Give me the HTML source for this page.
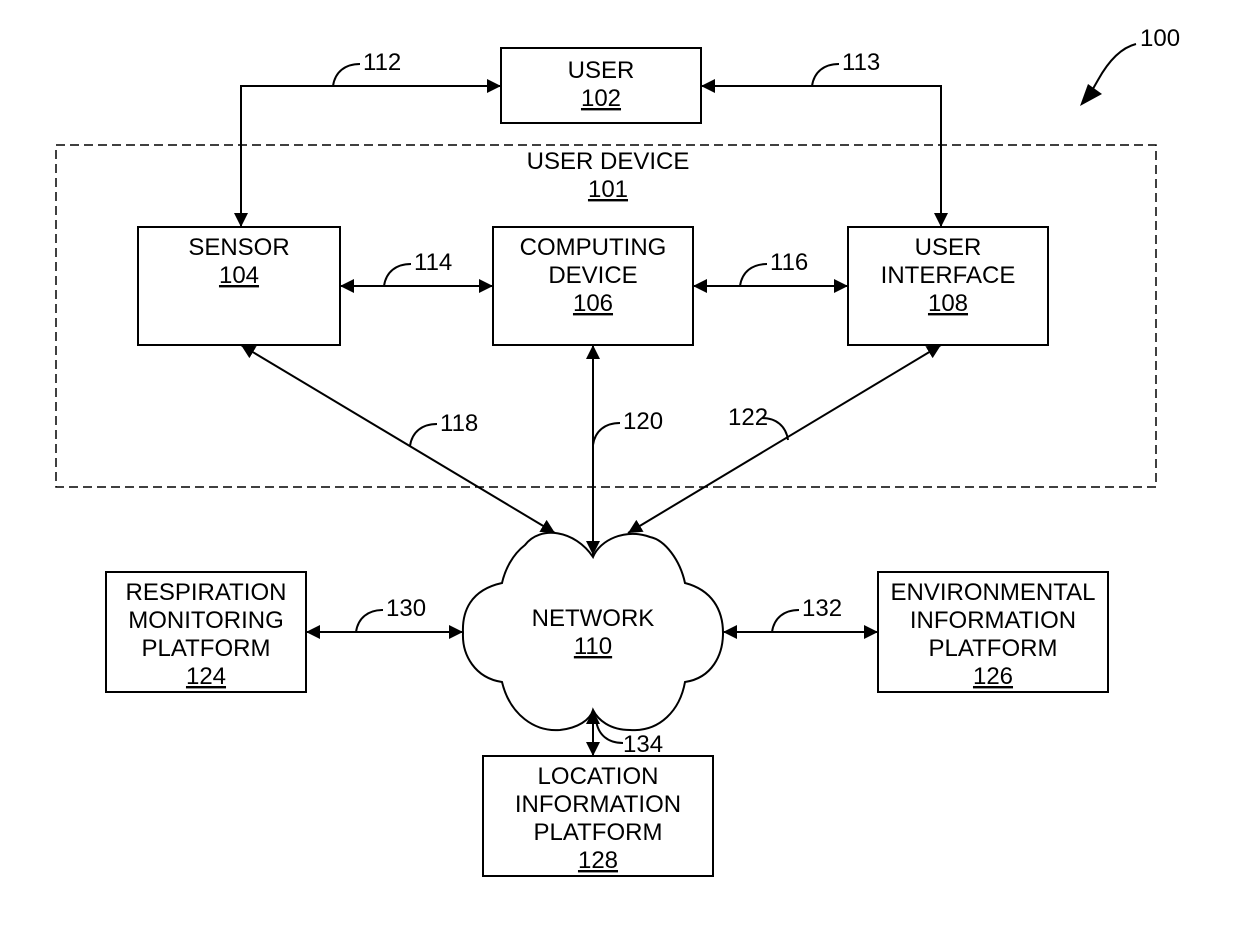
<!DOCTYPE html>
<html><head><style>
body{margin:0;background:#fff}
svg text{font-family:"Liberation Sans",Arial,sans-serif;font-size:24px;fill:#000}
.u{text-decoration:underline}
</style></head><body>
<svg width="1240" height="944" viewBox="0 0 1240 944" xmlns="http://www.w3.org/2000/svg">
<defs>
<marker id="a" viewBox="0 0 10 10" refX="10" refY="5" markerWidth="14" markerHeight="14" markerUnits="userSpaceOnUse" orient="auto-start-reverse"><path d="M0,0L10,5L0,10z" fill="#000"/></marker>
</defs>
<g fill="none" stroke="#000" stroke-width="2">
<rect x="56" y="145" width="1100" height="342" stroke-dasharray="9,5" stroke-width="1.5"/>
<rect x="501" y="48" width="200" height="75"/>
<rect x="138" y="227" width="202" height="118"/>
<rect x="493" y="227" width="200" height="118"/>
<rect x="848" y="227" width="200" height="118"/>
<rect x="106" y="572" width="200" height="120"/>
<rect x="878" y="572" width="230" height="120"/>
<rect x="483" y="756" width="230" height="120"/>
<path d="M593,557 C575,530 540,525 525,545 C512,555 505,570 502,583 C470,590 462,612 463,633 C462,655 475,678 502,682 C510,715 535,732 560,730 C578,728 590,720 593,710 C598,720 610,730 630,730 C660,732 680,710 685,682 C712,678 723,655 723,633 C723,610 712,590 685,583 C680,560 665,540 650,537 C625,528 600,540 593,557 Z"/>
<polyline points="241,227 241,86 501,86" marker-start="url(#a)" marker-end="url(#a)"/>
<polyline points="941,227 941,86 701,86" marker-start="url(#a)" marker-end="url(#a)"/>
<line x1="340" y1="286" x2="493" y2="286" marker-start="url(#a)" marker-end="url(#a)"/>
<line x1="693" y1="286" x2="848" y2="286" marker-start="url(#a)" marker-end="url(#a)"/>
<line x1="241" y1="345" x2="555" y2="533" marker-start="url(#a)" marker-end="url(#a)"/>
<line x1="593" y1="345" x2="593" y2="555" marker-start="url(#a)" marker-end="url(#a)"/>
<line x1="941" y1="345" x2="628" y2="533" marker-start="url(#a)" marker-end="url(#a)"/>
<line x1="306" y1="632" x2="463" y2="632" marker-start="url(#a)" marker-end="url(#a)"/>
<line x1="723" y1="632" x2="878" y2="632" marker-start="url(#a)" marker-end="url(#a)"/>
<line x1="593" y1="710" x2="593" y2="756" marker-start="url(#a)" marker-end="url(#a)"/>
<path d="M333,86 C335,72 345,64 360,64"/>
<path d="M812,86 C814,72 824,64 839,64"/>
<path d="M384,286 C386,272 396,264 411,264"/>
<path d="M740,286 C742,272 752,264 767,264"/>
<path d="M410,446 C412,432 422,424 437,424"/>
<path d="M593,445 C595,431 605,423 620,423"/>
<path d="M788,440 C786,426 776,418 762,418"/>
<path d="M356,632 C358,618 368,610 383,610"/>
<path d="M772,632 C774,618 784,610 799,610"/>
<path d="M596,720 C598,735 608,743 623,743"/>
<path d="M1136,44 C1120,48 1108,62 1098,80 L1090,94"/>
</g>
<path d="M1080,106 L1088,84 L1102,94 Z" fill="#000"/>
<g text-anchor="middle">
<text x="601" y="78">USER</text><text x="601" y="106" class="u">102</text>
<text x="608" y="169">USER DEVICE</text><text x="608" y="197" class="u">101</text>
<text x="239" y="255">SENSOR</text><text x="239" y="283" class="u">104</text>
<text x="593" y="255">COMPUTING</text><text x="593" y="283">DEVICE</text><text x="593" y="311" class="u">106</text>
<text x="948" y="255">USER</text><text x="948" y="283">INTERFACE</text><text x="948" y="311" class="u">108</text>
<text x="206" y="600">RESPIRATION</text><text x="206" y="628">MONITORING</text><text x="206" y="656">PLATFORM</text><text x="206" y="684" class="u">124</text>
<text x="993" y="600">ENVIRONMENTAL</text><text x="993" y="628">INFORMATION</text><text x="993" y="656">PLATFORM</text><text x="993" y="684" class="u">126</text>
<text x="598" y="784">LOCATION</text><text x="598" y="812">INFORMATION</text><text x="598" y="840">PLATFORM</text><text x="598" y="868" class="u">128</text>
<text x="593" y="626">NETWORK</text><text x="593" y="654" class="u">110</text>
</g>
<text x="363" y="70">112</text><text x="842" y="70">113</text>
<text x="414" y="270">114</text><text x="770" y="270">116</text>
<text x="440" y="431">118</text><text x="623" y="429">120</text><text x="728" y="425">122</text>
<text x="386" y="616">130</text><text x="802" y="616">132</text><text x="623" y="752">134</text>
<text x="1140" y="46">100</text>
</svg>
</body></html>
